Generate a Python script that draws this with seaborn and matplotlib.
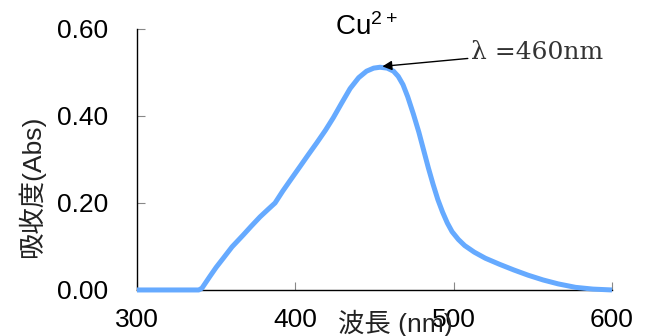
import matplotlib
matplotlib.use("Agg")
import matplotlib.pyplot as plt
import seaborn as sns
import pandas as pd

# Absorption spectrum of the Cu2+ complex
wavelength = [300, 320, 339, 341, 346, 350, 354.5, 360, 367, 372, 377.7, 383, 387.2,
              392, 396.6, 403, 408, 413.5, 419, 424, 429, 434.6, 440, 445, 449.5,
              453.5, 458, 462, 465, 468, 471, 474.6, 478, 481, 484, 487, 490,
              493, 496, 499, 503, 507, 513, 520, 529, 538, 547, 556.5, 566, 577,
              588, 600]
absorbance = [0.0, 0.0, 0.0, 0.004, 0.031, 0.052, 0.073, 0.099, 0.126, 0.146, 0.168, 0.186, 0.200,
              0.227, 0.251, 0.284, 0.310, 0.338, 0.367, 0.396, 0.428, 0.463, 0.488, 0.503, 0.510,
              0.512, 0.510, 0.503, 0.491, 0.472, 0.444, 0.404, 0.363, 0.322, 0.281, 0.243, 0.208,
              0.179, 0.154, 0.134, 0.116, 0.102, 0.087, 0.073, 0.059, 0.046, 0.034, 0.023, 0.014, 0.006,
              0.002, 0.0]

x_ticks = [300, 400, 500, 600]
y_ticks = [0.0, 0.2, 0.4, 0.6]
peak_label = "λ =460nm"
peak_point = (455, 0.514)
peak_text_pos = (511, 0.547)

df = pd.DataFrame({"wavelength": wavelength, "absorbance": absorbance})

sns.set_theme(style="white")
plt.rcParams["font.family"] = ["Liberation Sans", "Noto Sans CJK JP", "DejaVu Sans"]
plt.rcParams["mathtext.default"] = "regular"

fig = plt.figure(figsize=(6.45, 3.36), dpi=100)
ax = fig.add_axes([0.2124, 0.137, 0.7364, 0.7768])

sns.lineplot(data=df, x="wavelength", y="absorbance", ax=ax,
             color="#66aaff", linewidth=3.6, solid_capstyle="butt",
             solid_joinstyle="round")
for ln in ax.get_lines():
    ln.set_clip_on(False)
    ln.set_zorder(5)

ax.set_xlim(300, 600)
ax.set_ylim(0, 0.6)
ax.set_xticks(x_ticks)
ax.set_xticklabels([str(t) for t in x_ticks])
ax.set_yticks(y_ticks)
ax.set_yticklabels([f"{t:.2f}" for t in y_ticks])

for side in ("top", "right"):
    ax.spines[side].set_visible(False)
for side in ("left", "bottom"):
    ax.spines[side].set_color("black")
    ax.spines[side].set_linewidth(1.0)

ax.tick_params(axis="both", direction="in", length=6, width=0.8, color="#888888",
               labelsize=19, labelcolor="black")
ax.tick_params(axis="y", pad=21, left=True)
ax.tick_params(axis="x", pad=13, bottom=True)

ax.set_xlabel("波長 (nm)", fontsize=19, color="#222222",
              family=["Liberation Sans", "Noto Sans CJK JP"])
ax.xaxis.set_label_coords(0.543, -0.128)
ax.xaxis.label.set_va("center")
ax.set_ylabel("吸收度(Abs)", fontsize=19, color="#222222",
              family=["Liberation Sans", "Noto Sans CJK JP"])
ax.yaxis.set_label_coords(-0.222, 0.395)
ax.yaxis.label.set_va("center")

ax.text(0.484, 0.977, "Cu$^{2+}$", transform=ax.transAxes, ha="center", va="baseline",
        fontsize=20, color="black")

ax.annotate(peak_label, xy=peak_point, xytext=peak_text_pos,
            textcoords="data", ha="left", va="center",
            fontsize=18, family="DejaVu Serif", color="#333333",
            arrowprops=dict(arrowstyle="-|>", color="black", lw=1.0,
                            mutation_scale=14, shrinkA=0, shrinkB=0),
            annotation_clip=False, zorder=6)

fig.savefig("out.png", dpi=100, facecolor="white")
